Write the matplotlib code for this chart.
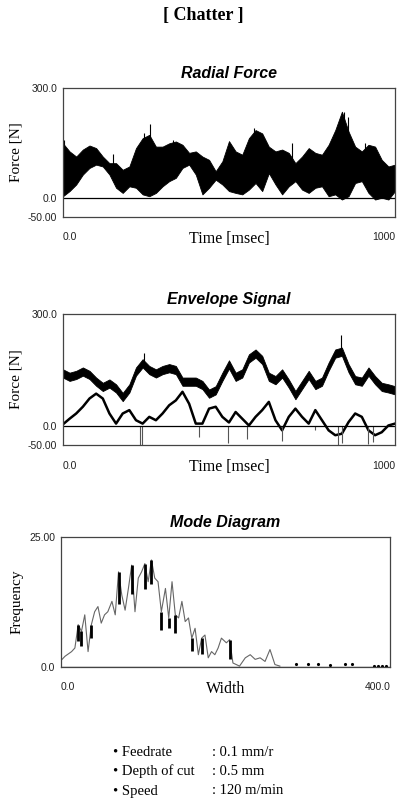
import matplotlib.pyplot as plt
import numpy as np

# ---- data ----
# time axis (ms) shared by the force panels
t = np.arange(0, 1001, 20)

# Radial force: upper / lower envelope of the dense signal [N]
rf_upper = [150, 128, 114, 133, 144, 137, 114, 96, 96, 78, 87, 137, 164, 173, 141, 141,
            150, 155, 146, 124, 128, 114, 105, 74, 101, 156,
            128, 119, 164, 186, 177, 141, 128, 133, 124, 96, 114, 137, 124, 119, 146,
            186, 236, 182, 141, 128, 146, 141, 105, 87, 92]
rf_lower = [6, 20, 38, 65, 83, 92, 87, 65, 29, 15, 33, 29, 11, 6, 15, 33, 47, 56, 83, 92,
            65, 11, 29, 51, 38, 20,
            15, 11, 24, 42, 20, 69, 38, 11, 33, 47, 24, 15, 29, 33, 6, 11, -3, 6, 42, 47,
            15, -3, 2, -3, 20]
# isolated spikes of the radial force (time ms, peak N)
rf_spike_t = [4, 150, 245, 262, 330, 575, 690, 835, 845, 858, 910]
rf_spike_v = [160, 120, 178, 202, 160, 192, 150, 215, 236, 222, 150]

# Envelope signal: upper and lower envelope curves [N]
env_upper = [141, 132, 137, 146, 137, 119, 105, 114, 101, 78, 101, 146, 168, 150, 141, 150,
             155, 150, 119, 119, 119, 110, 87, 96, 132, 165,
             132, 141, 181, 194, 177, 132, 123, 141, 114, 83, 110, 137, 110, 119, 159,
             194, 199, 155, 123, 119, 146, 123, 105, 101, 96]
env_lower = [5, 20, 34, 52, 74, 87, 74, 34, 7, 34, 43, 16, 7, 25, 16, 34, 56, 69, 92, 60,
             7, 7, 47, 52, 25, 10,
             38, 20, 2, 25, 43, 65, 16, -11, 25, 47, 25, 7, 43, 16, -11, -24, -20, 11, 34,
             25, -11, -24, -16, 2, 7]
# downward dips of the lower envelope (time ms, min N)
dip_t = [233, 237, 410, 497, 555, 660, 760, 829, 840, 920, 935]
dip_v = [-56, -50, -29, -45, -35, -40, -10, -50, -45, -48, -42]
env_spike_t = [245, 838]
env_spike_v = [195, 244]

# Mode diagram: frequency vs width
md_width = [0.8, 5, 13, 17, 21, 25, 29, 33, 37, 41, 45, 49, 53, 57, 62, 66, 70, 74, 78, 82,
            86, 90, 94, 98, 102, 106, 110, 114, 118, 122, 127, 131, 135, 139, 143, 147,
            151, 155, 159, 163, 167, 171, 175, 179, 183, 187, 191, 195, 201, 205, 209, 217,
            224, 230, 236, 242, 248, 254, 260, 266]
md_freq = [1.3, 2.0, 2.9, 3.6, 8.1, 6.8, 10.0, 2.9, 8.1, 10.6, 11.6, 8.4, 10.0, 10.6, 12.6,
           10.0, 18.3, 13.8, 10.9, 15.1, 19.6, 10.6, 17.1, 18.3, 19.9, 16.4, 20.6, 17.1,
           16.4, 10.6, 15.1, 9.4, 16.4, 10.0, 9.4, 12.6, 8.7, 9.4, 5.5, 7.4, 2.3, 5.5, 6.1,
           1.7, 2.9, 2.3, 3.6, 5.5, 4.6, 5.2, 0.7, 0.1, 1.7, 2.3, 1.4, 1.7, 1.0, 3.3, 0.4,
           0.1]
# darker, denser strokes in the mode diagram (width, low, high)
md_bar_w = [21, 25, 37, 70, 86, 102, 110, 122, 131, 139, 159, 171, 205]
md_bar_lo = [5.0, 4.0, 5.5, 12.0, 14.0, 15.0, 16.0, 7.0, 7.5, 6.5, 3.0, 2.5, 1.5]
md_bar_hi = [8.1, 6.8, 8.1, 18.3, 19.6, 19.9, 20.6, 10.6, 9.4, 10.0, 5.5, 5.5, 5.2]
md_dot_w = [286, 300, 312, 327, 345, 354, 380, 385, 390, 395]
md_dot_f = [0.5, 0.6, 0.5, 0.3, 0.5, 0.5, 0.2, 0.2, 0.2, 0.2]

conditions = ['\u2022 Feedrate', '\u2022 Depth of cut', '\u2022 Speed']
cond_values = [': 0.1 mm/r', ': 0.5 mm', ': 120 m/min']

serif = 'Liberation Serif'
sans = 'Liberation Sans'
frame_c = '#444444'

fig = plt.figure(figsize=(4.06, 8.09), dpi=100)
fig.text(0.5, 0.981, '[ Chatter ]', ha='center', va='center', fontsize=13,
         fontweight='bold', family=serif)


def style_axes(ax, title, ylabel, xlabel, xlim, ylim, yticks, yticklabels, xl, xr):
    ax.set_xlim(*xlim)
    ax.set_ylim(*ylim)
    for s in ax.spines.values():
        s.set_color(frame_c)
        s.set_linewidth(0.9)
    ax.set_yticks(yticks)
    ax.set_yticklabels(yticklabels, family=sans, fontsize=7.5, color='#222222')
    ax.set_xticks([])
    ax.tick_params(axis='y', length=0, pad=4)
    ax.set_title(title, fontsize=11.5, fontweight='bold', style='italic', family=sans, pad=7)
    ax.set_ylabel(ylabel, family=serif, fontsize=11, labelpad=4)
    ax.text(0.0, -0.16, xl, transform=ax.transAxes, ha='left', va='center',
            family=sans, fontsize=7.5, color='#222222')
    ax.text(1.0, -0.16, xr, transform=ax.transAxes, ha='right', va='center',
            family=sans, fontsize=7.5, color='#222222')
    ax.text(0.5, -0.17, xlabel, transform=ax.transAxes, ha='center', va='center',
            family=serif, fontsize=11.5)


# ---- Radial Force ----
ax1 = fig.add_axes([0.155, 0.732, 0.818, 0.159])
ax1.fill_between(t, rf_lower, rf_upper, color='black', linewidth=0.6, edgecolor='black')
ax1.vlines(rf_spike_t, np.interp(rf_spike_t, t, rf_upper) - 20, rf_spike_v, color='black',
           linewidth=0.8)
ax1.axhline(0, color='black', linewidth=0.9)
style_axes(ax1, 'Radial Force', 'Force [N]', 'Time [msec]', (0, 1000), (-50, 300),
           [300, 0, -50], ['300.0', '0.0', '-50.00'], '0.0', '1000')

# ---- Envelope Signal ----
ax2 = fig.add_axes([0.155, 0.450, 0.818, 0.162])
up = np.array(env_upper)
ax2.fill_between(t, up - 11, up + 11, color='black', linewidth=0.6, edgecolor='black')
ax2.plot(t, env_lower, color='black', linewidth=1.8)
ax2.vlines(dip_t, 0, dip_v, color='#555555', linewidth=0.8)
ax2.vlines(env_spike_t, np.interp(env_spike_t, t, env_upper), env_spike_v, color='black',
           linewidth=0.8)
ax2.axhline(0, color='black', linewidth=0.9)
style_axes(ax2, 'Envelope Signal', 'Force [N]', 'Time [msec]', (0, 1000), (-50, 300),
           [300, 0, -50], ['300.0', '0.0', '-50.00'], '0.0', '1000')

# ---- Mode Diagram ----
ax3 = fig.add_axes([0.150, 0.176, 0.811, 0.160])
ax3.plot(md_width, md_freq, color='#666666', linewidth=0.8)
ax3.vlines(md_bar_w, md_bar_lo, md_bar_hi, color='black', linewidth=2.0)
ax3.plot(md_dot_w, md_dot_f, linestyle='none', marker='.', markersize=2.5, color='black')
ax3.axhline(0, color='black', linewidth=0.9)
style_axes(ax3, 'Mode Diagram', 'Frequency', 'Width', (0, 400), (0, 25),
           [25, 0], ['25.00', '0.0'], '0.0', '400.0')

# ---- cutting conditions ----
for i, (lab, val) in enumerate(zip(conditions, cond_values)):
    y = 1 - (752 + 19.5 * i) / 809
    fig.text(113 / 406, y, lab, ha='left', va='center', family=serif, fontsize=10.5)
    fig.text(212 / 406, y, val, ha='left', va='center', family=serif, fontsize=10.5)

fig.savefig('out.png', dpi=100)
